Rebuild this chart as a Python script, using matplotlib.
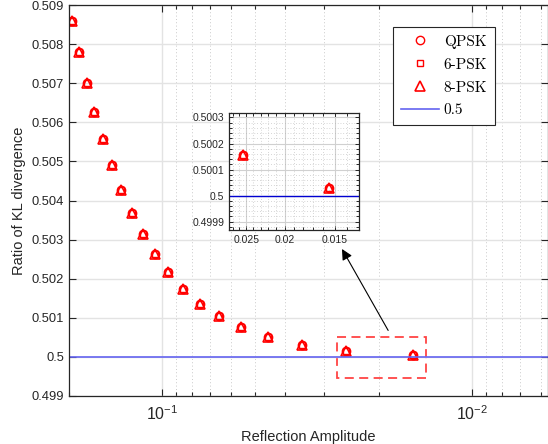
import numpy as np
import matplotlib
matplotlib.use('Agg')
import matplotlib.pyplot as plt
from matplotlib.patches import Rectangle
from matplotlib.ticker import FixedLocator, FormatStrFormatter, AutoMinorLocator, NullFormatter

plt.rcParams['font.family'] = ['Liberation Sans', 'DejaVu Sans']
plt.rcParams['mathtext.fontset'] = 'custom'
plt.rcParams['mathtext.rm'] = 'Liberation Sans'

# reflection amplitude (x) and KL-divergence ratio
amp = [0.1955, 0.1855, 0.1755, 0.1655, 0.1555, 0.1455, 0.1355, 0.1255,
       0.1155, 0.1055, 0.0955, 0.0855, 0.0755, 0.0655, 0.0555, 0.0455,
       0.0355, 0.0255, 0.0155]
ratio_qpsk = [0.50861, 0.50780, 0.50702, 0.50628, 0.50557, 0.50491, 0.50427,
              0.50369, 0.50313, 0.50263, 0.50217, 0.50174, 0.50136, 0.50103,
              0.50075, 0.50051, 0.50031, 0.500155, 0.50003]
ratio_6psk = ratio_qpsk
ratio_8psk = ratio_qpsk
ref_level = 0.5

gray = '#262626'
fig = plt.figure(figsize=(5.48, 4.44), dpi=100)
ax = fig.add_axes([0.1259, 0.1088, 0.8732, 0.8792])

ax.plot(amp, ratio_qpsk, 'o', ls='none', mfc='none', mec='r', ms=6, mew=1, label='QPSK')
ax.plot(amp, ratio_6psk, 's', ls='none', mfc='none', mec='r', ms=5, mew=1, label='6-PSK')
ax.plot(amp, ratio_8psk, '^', ls='none', mfc='none', mec='r', ms=6.5, mew=1.2, label='8-PSK')
ax.axhline(ref_level, color='#6464f0', lw=1.2, label='0.5')

ax.set_xscale('log')
ax.set_xlim(0.2, 0.0057)
ax.set_ylim(0.499, 0.509)
ax.set_yticks(np.arange(0.499, 0.5091, 0.001))
ax.yaxis.set_major_formatter(FormatStrFormatter('%g'))
ax.xaxis.set_major_locator(FixedLocator([0.1, 0.01]))
ax.xaxis.set_minor_locator(FixedLocator([0.2, 0.09, 0.08, 0.07, 0.06, 0.05, 0.04, 0.03, 0.02,
                                         0.009, 0.008, 0.007, 0.006]))
ax.xaxis.set_minor_formatter(NullFormatter())
ax.grid(True, which='major', color='#e3e3e3', lw=1)
ax.grid(True, which='minor', axis='x', color='#b8b8b8', lw=0.6, ls=(0, (1, 3)))
ax.tick_params(which='both', direction='in', top=True, right=True, colors=gray,
               labelsize=9.3, width=0.8)
ax.tick_params(which='major', length=5)
ax.tick_params(which='minor', length=3)
ax.tick_params(axis='x', which='major', labelsize=11.5, pad=6)
for s in ax.spines.values():
    s.set_color(gray)
    s.set_linewidth(0.9)
ax.set_xlabel('Reflection Amplitude', fontsize=10.5, color=gray, labelpad=5)
ax.set_ylabel('Ratio of KL divergence', fontsize=10.5, color=gray, labelpad=4)

leg = ax.legend(loc='upper right', bbox_to_anchor=(0.89, 0.944), borderaxespad=0,
                prop={'family': 'cmr10', 'size': 11}, fancybox=False, framealpha=1,
                edgecolor=gray, handlelength=2.5, handletextpad=0.3,
                labelspacing=0.6, borderpad=0.5)
leg.get_frame().set_linewidth(0.8)

# zoom box and arrow
ax.add_patch(Rectangle((0.0141, 0.49946), 0.0272 - 0.0141, 0.50051 - 0.49946,
                       fill=False, ec='#ff4444', lw=1.3, ls=(0, (5, 3))))
ax.annotate('', xy=(0.02654, 0.50282), xytext=(0.01845, 0.50061),
            arrowprops=dict(arrowstyle='-|>', color='k', lw=0.8, mutation_scale=16))

# inset
ins = fig.add_axes([0.418, 0.482, 0.2378, 0.264])
ins.plot(amp, ratio_qpsk, 'o', ls='none', mfc='none', mec='r', ms=6, mew=1)
ins.plot(amp, ratio_6psk, 's', ls='none', mfc='none', mec='r', ms=5, mew=1)
ins.plot(amp, ratio_8psk, '^', ls='none', mfc='none', mec='r', ms=6.5, mew=1.2)
ins.axhline(ref_level, color='#0000d0', lw=1)
ins.set_xscale('log')
ins.set_xlim(0.0276, 0.013)
ins.set_ylim(0.499868, 0.500318)
ins.set_yticks([0.4999, 0.5, 0.5001, 0.5002, 0.5003])
ins.yaxis.set_major_formatter(FormatStrFormatter('%g'))
ins.yaxis.set_minor_locator(AutoMinorLocator(5))
ins.xaxis.set_major_locator(FixedLocator([0.025, 0.02, 0.015]))
ins.xaxis.set_major_formatter(FormatStrFormatter('%g'))
ins.xaxis.set_minor_locator(FixedLocator([0.027, 0.026, 0.024, 0.023, 0.022, 0.021,
                                          0.019, 0.018, 0.017, 0.016, 0.014, 0.013]))
ins.xaxis.set_minor_formatter(NullFormatter())
ins.grid(True, which='major', color='#d0d0d0', lw=0.8)
ins.grid(True, which='minor', color='#b0b0b0', lw=0.5, ls=(0, (1, 3)))
ins.tick_params(which='both', direction='in', top=True, right=True, colors=gray,
                labelsize=7.5, width=0.7)
ins.tick_params(which='major', length=3)
ins.tick_params(which='minor', length=2)
for s in ins.spines.values():
    s.set_color(gray)
    s.set_linewidth(0.9)

fig.savefig('out.png', dpi=100)
